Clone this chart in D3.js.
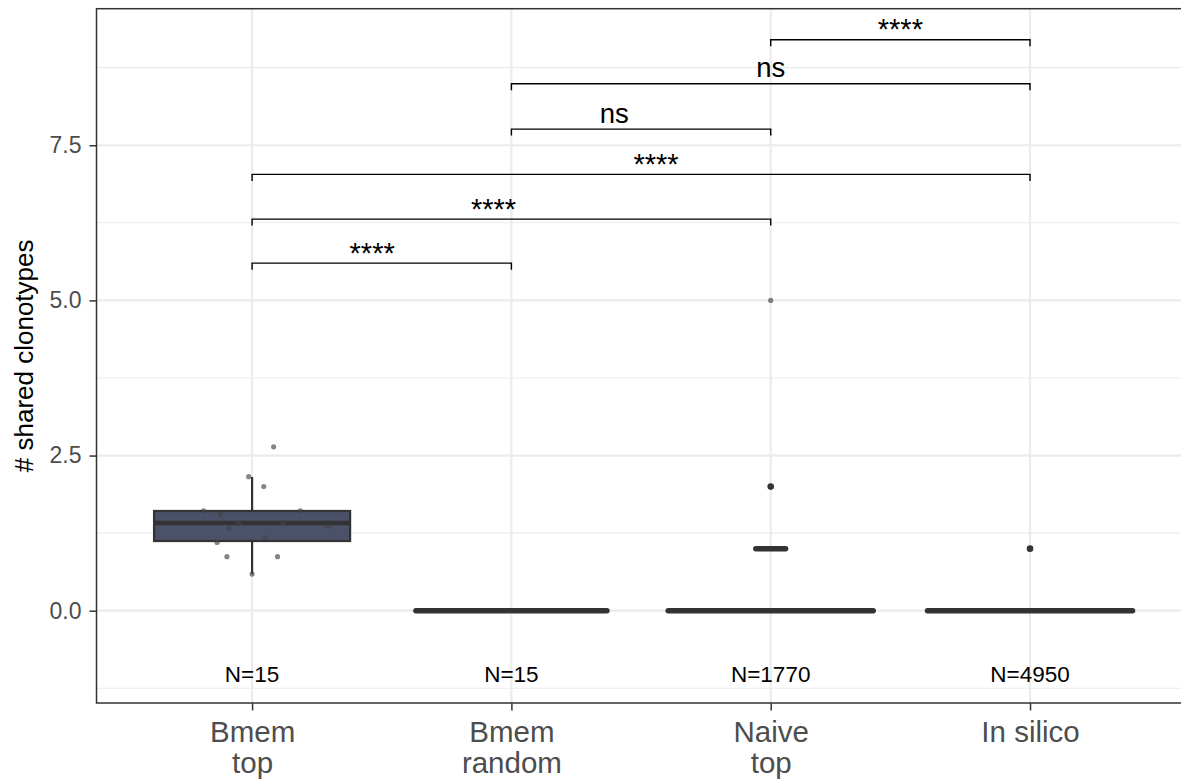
<!DOCTYPE html>
<html>
<head>
<meta charset="utf-8">
<script src="https://cdn.jsdelivr.net/npm/d3@7"></script>
<style>
  html, body { margin: 0; padding: 0; background: #fff; }
  svg { display: block; font-family: "Liberation Sans", Arial, Helvetica, sans-serif; }
</style>
</head>
<body>
<svg id="chart" width="1181" height="781"></svg>
<script>
// ---------------- data ----------------
const categories = ["Bmem\ntop", "Bmem\nrandom", "Naive\ntop", "In silico"];
const groupN = ["N=15", "N=15", "N=1770", "N=4950"];

// Bmem top observations (values) and their horizontal jitter (category units)
const bmemTopValues = [2.64, 2.16, 2.00, 1.61, 1.55, 1.61, 1.33, 1.36, 1.18, 1.10, 0.87, 0.87, 0.59, 1.41, 1.42];
const bmemTopJitter = [0.083, -0.013, 0.045, -0.187, -0.122, 0.186, -0.088, 0.295, 0.051, -0.135, -0.097, 0.098, 0.0, -0.05, 0.12];

// box statistics per group: [lowerWhisker, q1, median, q3, upperWhisker]
const boxStats = [
  [0.59, 1.123, 1.413, 1.607, 2.155],
  [0, 0, 0, 0, 0],
  [0, 0, 0, 0, 0],
  [0, 0, 0, 0, 0]
];

// dense clusters of jittered points: [group index, value, half spread (category units)]
const pointBands = [
  [1, 0, 0.378],
  [2, 0, 0.405],
  [3, 0, 0.405],
  [2, 1, 0.067]
];

// outliers: [group index, value]
const outliers = [[2, 2], [3, 1]];
// isolated jittered points in other groups: [group index, value, jitter]
const otherPoints = [[2, 5, 0]];

// significance brackets: [group a, group b, y value, label, label x (category units)]
const brackets = [
  [0, 1, 5.60, "****", 0.463],
  [0, 2, 6.31, "****", 0.931],
  [0, 3, 7.03, "****", 1.558],
  [1, 2, 7.76, "ns", 1.397],
  [1, 3, 8.49, "ns", 2.0],
  [2, 3, 9.20, "****", 2.5]
];

const yTicks = [0, 2.5, 5, 7.5];
const yTickLabels = ["0.0", "2.5", "5.0", "7.5"];
const yMinor = [-1.25, 1.25, 3.75, 6.25, 8.75];
const yTitle = "# shared clonotypes";

// ---------------- layout ----------------
const svg = d3.select("#chart");
const panel = { left: 96.5, top: 8.7, bottom: 703, right: 1185.6 };

const x = d3.scaleLinear().domain([-0.6, categories.length - 1 + 0.6]).range([panel.left, panel.right]);
const y = d3.scaleLinear().domain([-1.487, 9.70]).range([panel.bottom, panel.top]);

const g = svg.append("g");

// gridlines
g.selectAll(".minor").data(yMinor).enter().append("line")
  .attr("x1", panel.left).attr("x2", panel.right)
  .attr("y1", d => y(d)).attr("y2", d => y(d))
  .attr("stroke", "#EBEBEB").attr("stroke-width", 1.1);
g.selectAll(".major").data(yTicks).enter().append("line")
  .attr("x1", panel.left).attr("x2", panel.right)
  .attr("y1", d => y(d)).attr("y2", d => y(d))
  .attr("stroke", "#EBEBEB").attr("stroke-width", 2.2);
g.selectAll(".vmajor").data(categories).enter().append("line")
  .attr("x1", (d, i) => x(i)).attr("x2", (d, i) => x(i))
  .attr("y1", panel.top).attr("y2", panel.bottom)
  .attr("stroke", "#EBEBEB").attr("stroke-width", 2.2);

// boxes
const boxHalf = 0.378;
boxStats.forEach((s, i) => {
  const [lo, q1, med, q3, hi] = s;
  if (hi - lo > 0) {
    g.append("line").attr("x1", x(i)).attr("x2", x(i)).attr("y1", y(hi)).attr("y2", y(q3))
      .attr("stroke", "#333333").attr("stroke-width", 2.2);
    g.append("line").attr("x1", x(i)).attr("x2", x(i)).attr("y1", y(q1)).attr("y2", y(lo))
      .attr("stroke", "#333333").attr("stroke-width", 2.2);
    g.append("rect")
      .attr("x", x(i - boxHalf)).attr("width", x(i + boxHalf) - x(i - boxHalf))
      .attr("y", y(q3)).attr("height", y(q1) - y(q3))
      .attr("fill", "#4A5169").attr("stroke", "#333333").attr("stroke-width", 2.2);
    g.append("line").attr("x1", x(i - boxHalf)).attr("x2", x(i + boxHalf))
      .attr("y1", y(med)).attr("y2", y(med))
      .attr("stroke", "#333333").attr("stroke-width", 4.5);
  }
});

// dense bands of points
g.selectAll(".band").data(pointBands).enter().append("line")
  .attr("x1", d => x(d[0] - d[2]) + 2.5).attr("x2", d => x(d[0] + d[2]) - 2.5)
  .attr("y1", d => y(d[1])).attr("y2", d => y(d[1]))
  .attr("stroke", "#333333").attr("stroke-width", 5.5).attr("stroke-linecap", "round");

// outliers
g.selectAll(".out").data(outliers).enter().append("circle")
  .attr("cx", d => x(d[0])).attr("cy", d => y(d[1])).attr("r", 3.3)
  .attr("fill", "#333333");

// jitter points
g.selectAll(".pt").data(bmemTopValues).enter().append("circle")
  .attr("cx", (d, i) => x(0 + bmemTopJitter[i])).attr("cy", d => y(d)).attr("r", 2.6)
  .attr("fill", "#444444").attr("fill-opacity", 0.65);
g.selectAll(".opt").data(otherPoints).enter().append("circle")
  .attr("cx", d => x(d[0] + d[2])).attr("cy", d => y(d[1])).attr("r", 2.6)
  .attr("fill", "#444444").attr("fill-opacity", 0.65);

// N labels
g.selectAll(".nlab").data(groupN).enter().append("text")
  .attr("x", (d, i) => x(i)).attr("y", 681.5)
  .attr("text-anchor", "middle").attr("font-size", 22.5).attr("fill", "#000")
  .text(d => d);

// brackets
const tip = 6.5;
brackets.forEach(b => {
  const [a, c, v, lab, lx] = b;
  const yy = y(v);
  g.append("path")
    .attr("d", `M${x(a)},${yy + tip}V${yy}H${x(c)}V${yy + tip}`)
    .attr("fill", "none").attr("stroke", "#000").attr("stroke-width", 1.4);
  const isStar = lab.indexOf("*") >= 0;
  g.append("text")
    .attr("x", x(lx)).attr("y", isStar ? yy - 0.5 : yy - 6.6)
    .attr("text-anchor", "middle").attr("font-size", isStar ? 29 : 27.5).attr("fill", "#000")
    .text(lab);
});

// panel border
g.append("rect")
  .attr("x", panel.left).attr("y", panel.top)
  .attr("width", panel.right - panel.left).attr("height", panel.bottom - panel.top)
  .attr("fill", "none").attr("stroke", "#333333").attr("stroke-width", 1.5);

// y axis
const yAxis = d3.axisLeft(y).tickValues(yTicks).tickSize(7).tickPadding(8)
  .tickFormat((d, i) => yTickLabels[i]);
const ya = svg.append("g").attr("transform", `translate(${panel.left},0)`).call(yAxis);
ya.select(".domain").remove();
ya.selectAll(".tick line").attr("stroke", "#333333").attr("stroke-width", 1.5);
ya.selectAll(".tick text").attr("font-size", 23).attr("fill", "#4D4D4D")
  .attr("font-family", "Liberation Sans, Arial, sans-serif");

// x axis
const xAxis = d3.axisBottom(x).tickValues(d3.range(categories.length)).tickSize(7.5).tickFormat("");
const xa = svg.append("g").attr("transform", `translate(0,${panel.bottom})`).call(xAxis);
xa.select(".domain").remove();
xa.selectAll(".tick line").attr("stroke", "#333333").attr("stroke-width", 1.5);
xa.selectAll(".tick").each(function(d) {
  const lines = categories[d].split("\n");
  const t = d3.select(this).append("text")
    .attr("text-anchor", "middle").attr("font-size", 29.5).attr("fill", "#4D4D4D")
    .attr("font-family", "Liberation Sans, Arial, sans-serif");
  lines.forEach((ln, k) => {
    t.append("tspan").attr("x", 0).attr("y", 38.7 + k * 31).text(ln);
  });
});

// y title
svg.append("text")
  .attr("transform", `translate(33,${(y(9.70) + y(-1.487)) / 2}) rotate(-90)`)
  .attr("text-anchor", "middle").attr("font-size", 26).attr("fill", "#000")
  .text(yTitle);
</script>
</body>
</html>
